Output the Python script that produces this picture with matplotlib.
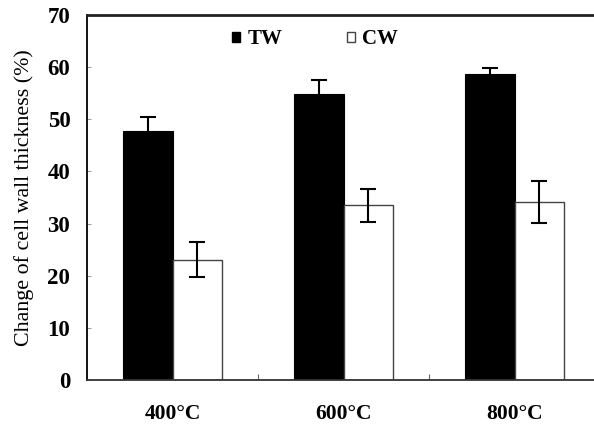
import matplotlib
matplotlib.use("Agg")
import matplotlib.pyplot as plt
from matplotlib.patches import Patch
import numpy as np

categories = ["400°C", "600°C", "800°C"]
tw_values = [47.8, 54.9, 58.6]
tw_errors = [2.6, 2.6, 1.3]
cw_values = [23.1, 33.5, 34.2]
cw_errors = [3.4, 3.2, 4.0]
y_ticks = [0, 10, 20, 30, 40, 50, 60, 70]


def main():
    """draw the bar chart"""
    plt.rcParams["font.family"] = ["Liberation Serif", "DejaVu Serif"]
    fig = plt.figure(figsize=(5.94, 4.24), dpi=100)
    # axes runs past the right edge, like the cropped original
    ax = fig.add_axes([87 / 594, 44 / 424, 513 / 594, 365 / 424])

    x = np.arange(len(categories)) + 0.5
    width = 0.29
    err_kw = dict(ecolor="black", elinewidth=1.5, capsize=5.5, capthick=1.5)
    ax.bar(x - width / 2, tw_values, width, yerr=tw_errors, color="black",
           edgecolor="black", linewidth=0.8, error_kw=err_kw, label="TW")
    ax.bar(x + width / 2, cw_values, width, yerr=cw_errors, color="white",
           edgecolor="#444444", linewidth=1.0, error_kw=err_kw, label="CW")

    ax.set_xlim(0, 3)
    ax.set_ylim(0, 70)
    ax.set_yticks(y_ticks)
    ax.set_yticklabels([str(t) for t in y_ticks], fontsize=16.5,
                       fontweight="bold")
    ax.set_xticks(x)
    ax.set_xticklabels(categories, fontsize=15.5, fontweight="bold")
    ax.set_xticks([1, 2], minor=True)
    ax.tick_params(axis="x", which="major", length=0, pad=17)
    ax.tick_params(axis="x", which="minor", direction="in", length=4,
                   width=0.8, color="#666666")
    ax.tick_params(axis="y", direction="in", length=3, width=0.6,
                   color="#888888", pad=12)

    ax.spines["right"].set_visible(False)
    ax.spines["top"].set_linewidth(2.0)
    ax.spines["top"].set_color("#222222")
    ax.spines["left"].set_linewidth(1.3)
    ax.spines["bottom"].set_linewidth(1.3)
    ax.spines["bottom"].set_color("#333333")

    ax.set_ylabel("Change of cell wall thickness (%)", fontsize=15.8,
                  labelpad=10)

    handles = [Patch(facecolor="black", edgecolor="black"),
               Patch(facecolor="white", edgecolor="#444444")]
    ax.legend(handles, ["TW", "CW"], ncol=2, frameon=False,
              loc="upper left", bbox_to_anchor=(0.246, 1.012),
              handlelength=0.38, handleheight=0.38, handletextpad=0.35,
              columnspacing=3.1, prop={"size": 15, "weight": "bold"})

    fig.savefig("out.png", dpi=100)


if __name__ == "__main__":
    main()
